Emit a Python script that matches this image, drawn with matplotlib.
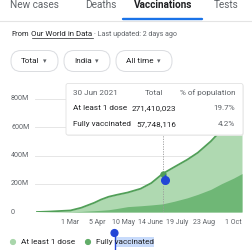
import pandas as pd
import matplotlib
matplotlib.use("Agg")
import matplotlib.pyplot as plt
import matplotlib.dates as mdates
from matplotlib.patches import FancyBboxPatch, Rectangle, Circle
from matplotlib.transforms import blended_transform_factory

plt.rcParams['font.family'] = ['Roboto', 'DejaVu Sans']

# data (millions)
dates = ["2021-01-16", "2021-02-01", "2021-02-15", "2021-03-01", "2021-03-15",
         "2021-04-01", "2021-04-10", "2021-04-20", "2021-05-01", "2021-05-15",
         "2021-06-01", "2021-06-15", "2021-06-30", "2021-07-15", "2021-08-01",
         "2021-08-15", "2021-09-01", "2021-09-15", "2021-10-01", "2021-10-12"]
at_least_one = [0, 3, 7, 11, 30, 65, 88, 108, 122, 138,
                165, 205, 271.4, 318, 370, 420, 500, 580, 655, 690]
fully_vacc = [0, 0, 0.5, 2, 4, 9, 12, 16, 25, 38,
              44, 50, 57.7, 76, 100, 125, 160, 200, 240, 272]

y_ticks = [0, 200, 400, 600, 800]
y_labels = ["0", "200M", "400M", "600M", "800M"]
x_ticks = ["2021-03-01", "2021-04-05", "2021-05-10", "2021-06-14",
           "2021-07-19", "2021-08-23", "2021-10-01"]
x_labels = ["1 Mar", "5 Apr", "10 May", "14 June", "19 July", "23 Aug", "1 Oct"]
tabs = ["New cases", "Deaths", "Vaccinations", "Tests"]
chips = ["Total", "India", "All time"]
sel_date = "2021-06-30"

W, H = 252, 250
def fx(x): return x / W
def fy(y): return 1 - y / H

GRAY = '#5f6368'
DARK = '#202124'
BLUE = '#1a73e8'
HANDLE = '#2346d6'
LIGHT = '#afd9b1'
MID = '#6fb776'
LINE = '#519f58'

fig = plt.figure(figsize=(W / 100, H / 100), dpi=100)
fig.patch.set_facecolor('white')

# chart
d = pd.to_datetime(dates)
ax = fig.add_axes([fx(35), fy(212), fx(242) - fx(35), fy(99) - fy(212)])
x_left = mdates.date2num(pd.Timestamp("2021-01-16")) - 2.6
x_right = mdates.date2num(pd.Timestamp("2021-10-12"))
ax.set_xlim(x_left, x_right)
ax.set_ylim(0, 800)
for s in ax.spines.values():
    s.set_visible(False)
ax.set_xticks([])
ax.set_yticks([])
ax.patch.set_alpha(0)
for v in y_ticks:
    ax.axhline(v, color='#e6e6e6' if v else '#cfcfcf', lw=0.7, zorder=0)
ylab_tr = blended_transform_factory(fig.transFigure, ax.transData)
for v, lab in zip(y_ticks, y_labels):
    ax.text(fx(11), v, lab, transform=ylab_tr, ha='left', va='center',
            fontsize=5.1, color=GRAY)
xlab_tr = blended_transform_factory(ax.transData, fig.transFigure)
for v, lab in zip(pd.to_datetime(x_ticks), x_labels):
    ax.text(mdates.date2num(v), fy(222), lab, transform=xlab_tr, ha='center',
            va='center', fontsize=5.0, color=GRAY)

ax.fill_between(d, 0, at_least_one, color=LIGHT, lw=0, zorder=1)
ax.fill_between(d, 0, fully_vacc, color=MID, lw=0, zorder=2)
ax.plot(d, at_least_one, color=LINE, lw=1.3, zorder=3)

sd = pd.Timestamp(sel_date)
sel_val = at_least_one[dates.index(sel_date)]
ax.axvline(sd, color='#9a9a9a', lw=0.6, ls=(0, (1.5, 1.5)), zorder=4)
ax.plot([sd], [sel_val], 'o', ms=3.5, color=LINE, zorder=5)

# text selection handle on the chart
ax.plot([mdates.date2num(sd) + 2.5] * 2, [sel_val - 8, sel_val - 45], color=HANDLE,
        lw=1.0, zorder=6)
ax.plot([mdates.date2num(sd) + 2.5], [sel_val - 45], 'o', ms=5.5, color=HANDLE,
        zorder=6)

# page overlay in pixel units
ov = fig.add_axes([0, 0, 1, 1], zorder=5)
ov.set_xlim(0, W)
ov.set_ylim(H, 0)
ov.axis('off')

# tabs
tab_x = [34, 101, 163, 226]
for t, x in zip(tabs, tab_x):
    ov.text(x, 4.5, t, ha='center', va='center', fontsize=7.2,
            color=DARK if t == "Vaccinations" else GRAY,
            weight='bold' if t == "Vaccinations" else 'normal')
ov.plot([0, W], [20.5, 20.5], color='#e4e4e4', lw=0.8)
ov.plot([123, 202], [19, 19], color=BLUE, lw=1.7, solid_capstyle='round')

ov.text(11, 34, "From", ha='left', va='center', fontsize=5.4, color=DARK)
ov.text(31, 34, "Our World in Data", ha='left', va='center', fontsize=5.7, color=DARK)
ov.plot([31.5, 93], [38, 38], color=DARK, lw=0.5)
ov.text(94, 34, "· Last updated: 2 days ago", ha='left', va='center',
        fontsize=5.1, color=GRAY)

# chips
chip_box = [(11, 58), (64, 110), (116, 172)]
for c, (x0, x1) in zip(chips, chip_box):
    ov.add_patch(FancyBboxPatch((x0, 50.5), x1 - x0, 21,
                                boxstyle="round,pad=0,rounding_size=10",
                                fc='white', ec='#dadce0', lw=0.7))
    ov.text((x0 + x1) / 2 - 4, 61, c, ha='center', va='center',
            fontsize=5.9, color=DARK)
    ov.text(x1 - 13, 61, "▾", ha='center', va='center', fontsize=5,
            color=GRAY, family='DejaVu Sans')

# tooltip
ov.add_patch(FancyBboxPatch((66, 83.5), 177, 51.5,
                            boxstyle="round,pad=0,rounding_size=2",
                            fc='#eeeeee', ec='none', lw=0, zorder=9,
                            transform=ov.transData + matplotlib.transforms.Affine2D().translate(0.6, -0.8)))
ov.add_patch(FancyBboxPatch((66, 83.5), 177, 51.5,
                            boxstyle="round,pad=0,rounding_size=2",
                            fc='white', ec='#e2e2e2', lw=0.6, zorder=10))
tt = dict(fontsize=5.9, va='center', zorder=11)
ov.text(73, 93, "30 Jun 2021", ha='left', color=GRAY, **tt)
ov.text(163, 93, "Total", ha='right', color=GRAY, **tt)
ov.text(235, 93, "% of population", ha='right', color=GRAY, **tt)
ov.text(73, 108.5, "At least 1 dose", ha='left', color=DARK, **tt)
ov.text(176, 108.5, "271,410,023", ha='right', color=DARK, **tt)
ov.text(235, 108.5, "19.7%", ha='right', color=GRAY, **tt)
ov.text(73, 124, "Fully vaccinated", ha='left', color=DARK, **tt)
ov.text(176, 124, "57,748,116", ha='right', color=DARK, **tt)
ov.text(235, 124, "4.2%", ha='right', color=GRAY, **tt)

# legend
ov.add_patch(Circle((13, 242), 2.4, color='#a9d6ab'))
ov.text(21, 242, "At least 1 dose", ha='left', va='center', fontsize=5.9, color=DARK)
ov.add_patch(Circle((88, 242), 2.4, color='#62ad69'))
ov.add_patch(Rectangle((115, 236.5), 39, 10.5, color='#c8dbfb', lw=0))
ov.text(96, 242, "Fully vaccinated", ha='left', va='center', fontsize=5.9, color=DARK)
ov.plot([114.5, 114.5], [233, 250], color=HANDLE, lw=1.0)
ov.add_patch(Circle((114.5, 233), 3.4, color=HANDLE))

fig.savefig("out.png", dpi=100, facecolor='white')
